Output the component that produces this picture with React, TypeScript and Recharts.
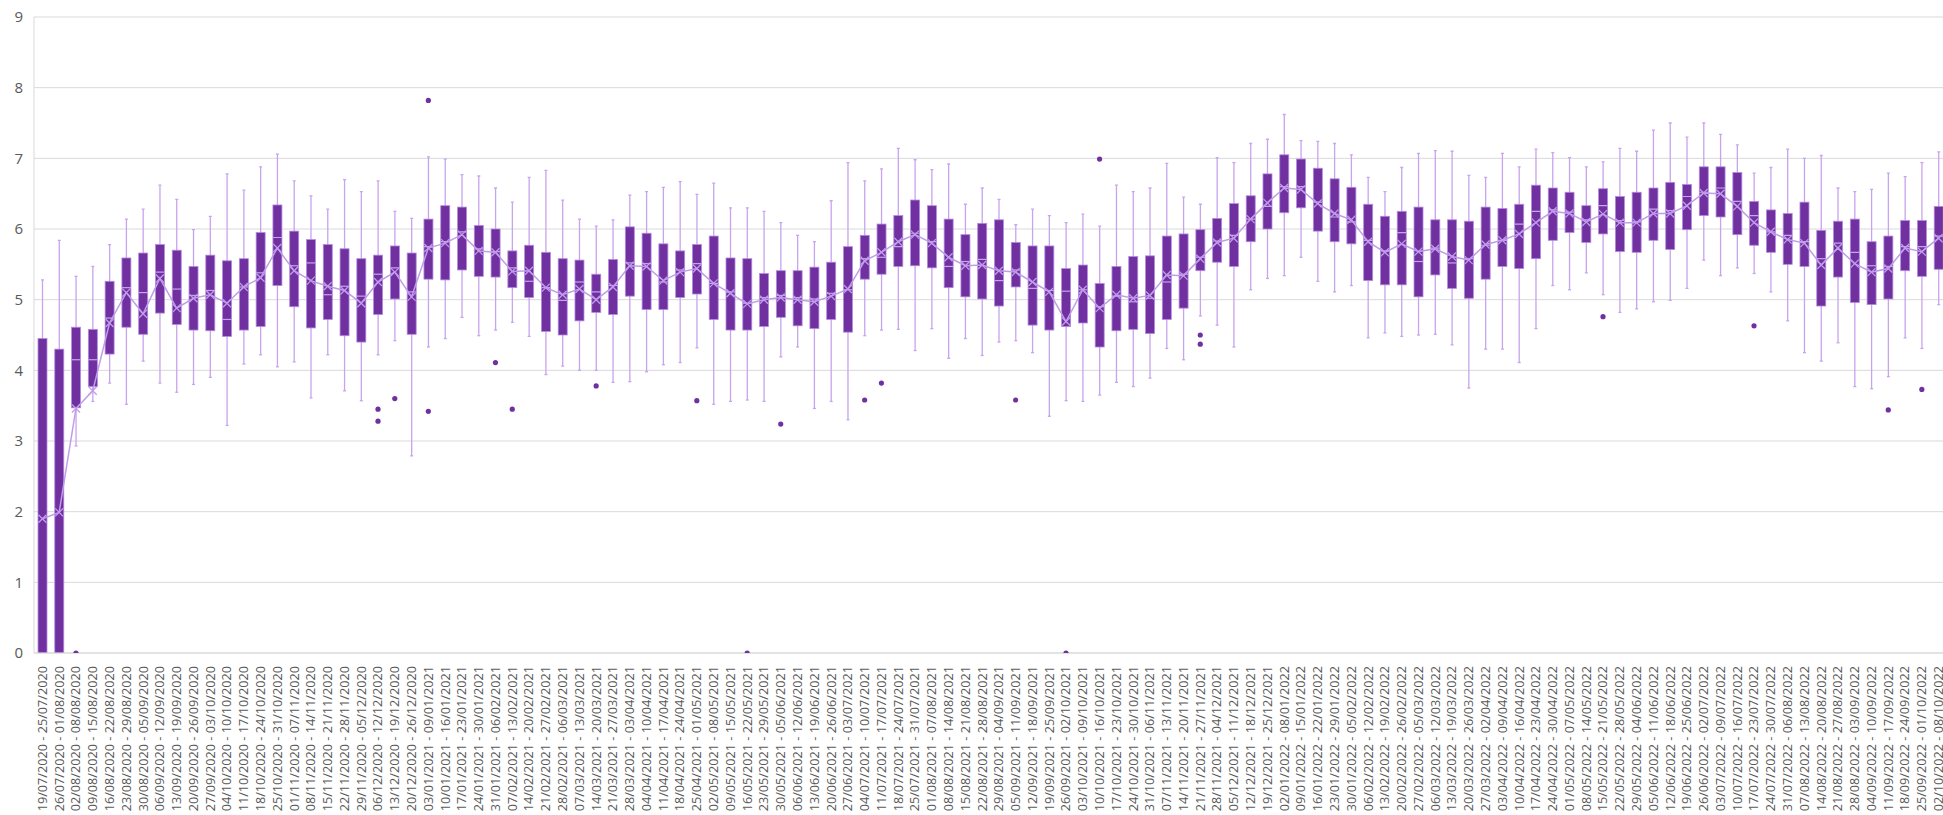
import React from 'react';
import { ComposedChart, Bar, Line, XAxis, YAxis, CartesianGrid } from 'recharts';

const weekLabels: string[] = [
  '19/07/2020 - 25/07/2020', '26/07/2020 - 01/08/2020', '02/08/2020 - 08/08/2020', '09/08/2020 - 15/08/2020',
  '16/08/2020 - 22/08/2020', '23/08/2020 - 29/08/2020', '30/08/2020 - 05/09/2020', '06/09/2020 - 12/09/2020',
  '13/09/2020 - 19/09/2020', '20/09/2020 - 26/09/2020', '27/09/2020 - 03/10/2020', '04/10/2020 - 10/10/2020',
  '11/10/2020 - 17/10/2020', '18/10/2020 - 24/10/2020', '25/10/2020 - 31/10/2020', '01/11/2020 - 07/11/2020',
  '08/11/2020 - 14/11/2020', '15/11/2020 - 21/11/2020', '22/11/2020 - 28/11/2020', '29/11/2020 - 05/12/2020',
  '06/12/2020 - 12/12/2020', '13/12/2020 - 19/12/2020', '20/12/2020 - 26/12/2020',
  '03/01/2021 - 09/01/2021', '10/01/2021 - 16/01/2021', '17/01/2021 - 23/01/2021', '24/01/2021 - 30/01/2021',
  '31/01/2021 - 06/02/2021', '07/02/2021 - 13/02/2021', '14/02/2021 - 20/02/2021', '21/02/2021 - 27/02/2021',
  '28/02/2021 - 06/03/2021', '07/03/2021 - 13/03/2021', '14/03/2021 - 20/03/2021', '21/03/2021 - 27/03/2021',
  '28/03/2021 - 03/04/2021', '04/04/2021 - 10/04/2021', '11/04/2021 - 17/04/2021', '18/04/2021 - 24/04/2021',
  '25/04/2021 - 01/05/2021', '02/05/2021 - 08/05/2021', '09/05/2021 - 15/05/2021', '16/05/2021 - 22/05/2021',
  '23/05/2021 - 29/05/2021', '30/05/2021 - 05/06/2021', '06/06/2021 - 12/06/2021', '13/06/2021 - 19/06/2021',
  '20/06/2021 - 26/06/2021', '27/06/2021 - 03/07/2021', '04/07/2021 - 10/07/2021', '11/07/2021 - 17/07/2021',
  '18/07/2021 - 24/07/2021', '25/07/2021 - 31/07/2021', '01/08/2021 - 07/08/2021', '08/08/2021 - 14/08/2021',
  '15/08/2021 - 21/08/2021', '22/08/2021 - 28/08/2021', '29/08/2021 - 04/09/2021', '05/09/2021 - 11/09/2021',
  '12/09/2021 - 18/09/2021', '19/09/2021 - 25/09/2021', '26/09/2021 - 02/10/2021', '03/10/2021 - 09/10/2021',
  '10/10/2021 - 16/10/2021', '17/10/2021 - 23/10/2021', '24/10/2021 - 30/10/2021', '31/10/2021 - 06/11/2021',
  '07/11/2021 - 13/11/2021', '14/11/2021 - 20/11/2021', '21/11/2021 - 27/11/2021', '28/11/2021 - 04/12/2021',
  '05/12/2021 - 11/12/2021', '12/12/2021 - 18/12/2021', '19/12/2021 - 25/12/2021',
  '02/01/2022 - 08/01/2022', '09/01/2022 - 15/01/2022', '16/01/2022 - 22/01/2022', '23/01/2022 - 29/01/2022',
  '30/01/2022 - 05/02/2022', '06/02/2022 - 12/02/2022', '13/02/2022 - 19/02/2022', '20/02/2022 - 26/02/2022',
  '27/02/2022 - 05/03/2022', '06/03/2022 - 12/03/2022', '13/03/2022 - 19/03/2022', '20/03/2022 - 26/03/2022',
  '27/03/2022 - 02/04/2022', '03/04/2022 - 09/04/2022', '10/04/2022 - 16/04/2022', '17/04/2022 - 23/04/2022',
  '24/04/2022 - 30/04/2022', '01/05/2022 - 07/05/2022', '08/05/2022 - 14/05/2022', '15/05/2022 - 21/05/2022',
  '22/05/2022 - 28/05/2022', '29/05/2022 - 04/06/2022', '05/06/2022 - 11/06/2022', '12/06/2022 - 18/06/2022',
  '19/06/2022 - 25/06/2022', '26/06/2022 - 02/07/2022', '03/07/2022 - 09/07/2022', '10/07/2022 - 16/07/2022',
  '17/07/2022 - 23/07/2022', '24/07/2022 - 30/07/2022', '31/07/2022 - 06/08/2022', '07/08/2022 - 13/08/2022',
  '14/08/2022 - 20/08/2022', '21/08/2022 - 27/08/2022', '28/08/2022 - 03/09/2022', '04/09/2022 - 10/09/2022',
  '11/09/2022 - 17/09/2022', '18/09/2022 - 24/09/2022', '25/09/2022 - 01/10/2022', '02/10/2022 - 08/10/2022',
];

const whiskerLow: number[] = [
  0, 0, 2.93, 3.56, 3.82, 3.52, 4.13, 3.82, 3.69, 3.80, 3.90, 3.22, 4.09, 4.22, 4.05, 4.12, 3.61, 4.22, 3.71, 3.57,
  4.22, 4.42, 2.79, 4.33, 4.45, 4.75, 4.49, 4.57, 4.68, 4.48, 3.94, 4.06, 4.00, 4.00, 3.83, 3.84, 3.98, 4.08, 4.11, 4.32,
  3.52, 3.56, 3.58, 3.56, 4.19, 4.33, 3.46, 3.56, 3.30, 4.49, 4.57, 4.58, 4.28, 4.59, 4.17, 4.45, 4.21, 4.40, 4.42, 4.25,
  3.35, 3.57, 3.56, 3.65, 3.83, 3.77, 3.89, 4.31, 4.15, 4.77, 4.64, 4.33, 5.14, 5.30, 5.34, 5.60, 5.26, 5.11, 5.20, 4.46,
  4.53, 4.48, 4.50, 4.51, 4.36, 3.75, 4.30, 4.30, 4.11, 4.59, 5.20, 5.14, 5.38, 5.07, 4.82, 4.87, 4.97, 4.99, 5.16, 5.56,
  5.34, 5.45, 5.37, 5.11, 4.70, 4.25, 4.13, 4.39, 3.77, 3.74, 3.91, 4.46, 4.31, 4.93,
];

const quartile1: number[] = [
  0, 0, 3.47, 3.77, 4.23, 4.61, 4.51, 4.81, 4.65, 4.57, 4.56, 4.48, 4.57, 4.62, 5.20, 4.90, 4.60, 4.72, 4.49, 4.40,
  4.79, 5.01, 4.51, 5.29, 5.28, 5.42, 5.33, 5.32, 5.17, 5.03, 4.55, 4.50, 4.70, 4.82, 4.79, 5.05, 4.86, 4.86, 5.03, 5.08,
  4.72, 4.57, 4.57, 4.62, 4.75, 4.63, 4.59, 4.72, 4.54, 5.29, 5.36, 5.47, 5.48, 5.45, 5.17, 5.04, 5.01, 4.91, 5.18, 4.64,
  4.57, 4.62, 4.67, 4.33, 4.56, 4.58, 4.52, 4.72, 4.88, 5.41, 5.53, 5.47, 5.82, 6.00, 6.23, 6.30, 5.97, 5.82, 5.79, 5.27,
  5.21, 5.21, 5.04, 5.35, 5.16, 5.02, 5.29, 5.47, 5.44, 5.58, 5.84, 5.95, 5.81, 5.93, 5.68, 5.67, 5.84, 5.71, 5.99, 6.19,
  6.17, 5.92, 5.77, 5.67, 5.50, 5.47, 4.91, 5.32, 4.96, 4.93, 5.01, 5.41, 5.33, 5.43,
];

const medians: number[] = [
  0, 0, 4.15, 4.15, 4.74, 5.17, 5.10, 5.39, 5.15, 5.06, 5.13, 4.72, 5.18, 5.38, 5.88, 5.48, 5.52, 5.07, 5.19, 5.05,
  5.36, 5.45, 5.11, 5.75, 5.82, 5.96, 5.72, 5.68, 5.45, 5.26, 5.17, 4.99, 5.25, 5.11, 5.20, 5.52, 5.51, 5.25, 5.42, 5.51,
  5.23, 5.11, 4.95, 5.03, 5.06, 5.03, 5.01, 5.09, 5.14, 5.58, 5.60, 5.75, 5.94, 5.82, 5.47, 5.54, 5.57, 5.27, 5.42, 5.16,
  5.13, 5.12, 5.14, 4.90, 5.05, 4.97, 5.02, 5.25, 5.36, 5.60, 5.83, 5.91, 6.14, 6.32, 6.60, 6.60, 6.38, 6.17, 6.10, 5.84,
  5.69, 5.95, 5.54, 5.73, 5.52, 5.58, 5.77, 5.84, 6.07, 6.25, 6.27, 6.24, 6.13, 6.33, 6.12, 6.10, 6.28, 6.26, 6.46, 6.52,
  6.58, 6.39, 6.19, 5.96, 5.91, 5.82, 5.58, 5.80, 5.67, 5.48, 5.47, 5.75, 5.75, 5.90,
];

const quartile3: number[] = [
  4.45, 4.30, 4.61, 4.58, 5.26, 5.59, 5.66, 5.78, 5.70, 5.47, 5.63, 5.55, 5.58, 5.95, 6.34, 5.97, 5.85, 5.78, 5.72, 5.58,
  5.63, 5.76, 5.66, 6.14, 6.33, 6.31, 6.05, 6.00, 5.69, 5.77, 5.67, 5.58, 5.56, 5.36, 5.57, 6.03, 5.94, 5.79, 5.69, 5.78,
  5.90, 5.59, 5.58, 5.37, 5.41, 5.41, 5.46, 5.53, 5.75, 5.91, 6.07, 6.19, 6.41, 6.33, 6.14, 5.92, 6.08, 6.13, 5.81, 5.76,
  5.76, 5.44, 5.49, 5.23, 5.47, 5.61, 5.62, 5.90, 5.93, 5.99, 6.15, 6.36, 6.47, 6.78, 7.05, 6.99, 6.86, 6.71, 6.59, 6.35,
  6.18, 6.25, 6.31, 6.13, 6.13, 6.11, 6.31, 6.29, 6.35, 6.62, 6.58, 6.52, 6.33, 6.57, 6.46, 6.52, 6.58, 6.66, 6.63, 6.88,
  6.88, 6.80, 6.39, 6.27, 6.22, 6.38, 5.98, 6.11, 6.14, 5.82, 5.90, 6.12, 6.12, 6.32,
];

const whiskerHigh: number[] = [
  5.28, 5.84, 5.33, 5.47, 5.78, 6.14, 6.28, 6.62, 6.42, 5.99, 6.18, 6.78, 6.55, 6.88, 7.06, 6.68, 6.47, 6.28, 6.70, 6.53,
  6.68, 6.25, 6.15, 7.02, 6.99, 6.77, 6.75, 6.58, 6.38, 6.73, 6.83, 6.41, 6.14, 6.04, 6.13, 6.48, 6.53, 6.59, 6.67, 6.49,
  6.65, 6.30, 6.30, 6.25, 6.09, 5.91, 5.82, 6.40, 6.94, 6.68, 6.85, 7.14, 6.98, 6.84, 6.92, 6.35, 6.58, 6.42, 6.06, 6.28,
  6.19, 6.09, 6.21, 6.04, 6.62, 6.53, 6.58, 6.93, 6.45, 6.35, 7.01, 6.94, 7.21, 7.27, 7.62, 7.25, 7.24, 7.21, 7.05, 6.73,
  6.53, 6.87, 7.07, 7.11, 7.10, 6.76, 6.73, 7.07, 6.88, 7.13, 7.08, 7.01, 6.88, 6.95, 7.14, 7.10, 7.40, 7.50, 7.30, 7.50,
  7.34, 7.19, 6.79, 6.87, 7.13, 7.00, 7.04, 6.58, 6.53, 6.56, 6.79, 6.74, 6.94, 7.09,
];

const means: number[] = [
  1.90, 1.99, 3.46, 3.71, 4.67, 5.10, 4.80, 5.30, 4.88, 5.02, 5.07, 4.95, 5.18, 5.31, 5.73, 5.41, 5.27, 5.19, 5.13, 4.95,
  5.25, 5.39, 5.04, 5.73, 5.80, 5.92, 5.69, 5.67, 5.40, 5.41, 5.17, 5.07, 5.15, 5.00, 5.18, 5.48, 5.47, 5.27, 5.39, 5.44,
  5.23, 5.09, 4.94, 5.00, 5.03, 5.00, 4.97, 5.05, 5.15, 5.55, 5.67, 5.82, 5.92, 5.80, 5.60, 5.48, 5.49, 5.41, 5.39, 5.25,
  5.11, 4.69, 5.14, 4.88, 5.07, 5.02, 5.06, 5.35, 5.34, 5.58, 5.81, 5.87, 6.14, 6.37, 6.58, 6.56, 6.36, 6.22, 6.13, 5.82,
  5.67, 5.79, 5.68, 5.72, 5.61, 5.56, 5.78, 5.84, 5.93, 6.09, 6.25, 6.22, 6.10, 6.21, 6.09, 6.09, 6.22, 6.22, 6.33, 6.51,
  6.50, 6.32, 6.09, 5.96, 5.85, 5.80, 5.49, 5.73, 5.51, 5.39, 5.44, 5.73, 5.68, 5.87,
];

const outlierWeeks: string[] = [
  '02/08/2020 - 08/08/2020', '06/12/2020 - 12/12/2020', '06/12/2020 - 12/12/2020', '13/12/2020 - 19/12/2020',
  '03/01/2021 - 09/01/2021', '03/01/2021 - 09/01/2021', '31/01/2021 - 06/02/2021', '07/02/2021 - 13/02/2021',
  '14/03/2021 - 20/03/2021', '25/04/2021 - 01/05/2021', '16/05/2021 - 22/05/2021', '30/05/2021 - 05/06/2021',
  '04/07/2021 - 10/07/2021', '11/07/2021 - 17/07/2021', '05/09/2021 - 11/09/2021', '26/09/2021 - 02/10/2021',
  '10/10/2021 - 16/10/2021', '21/11/2021 - 27/11/2021', '21/11/2021 - 27/11/2021', '15/05/2022 - 21/05/2022',
  '17/07/2022 - 23/07/2022', '11/09/2022 - 17/09/2022', '25/09/2022 - 01/10/2022',
];
const outlierValues: number[] = [
  0, 3.45, 3.28, 3.60,
  7.82, 3.42, 4.11, 3.45,
  3.78, 3.57, 0, 3.24,
  3.58, 3.82, 3.58, 0,
  6.99, 4.50, 4.37, 4.76,
  4.63, 3.44, 3.73,
];

const yTicks: number[] = [0, 1, 2, 3, 4, 5, 6, 7, 8, 9];

const BOX_FILL = '#7030A0';
const BOX_EDGE = '#B48ADF';
const WHISKER = '#C7A4EE';
const MEAN_LINE = '#C09CEB';
const GRID = '#D9D9D9';
const TEXT = '#595959';
const FONT = "'Open Sans', 'Noto Sans', sans-serif";

const data = weekLabels.map((label, i) => {
  const outs: number[] = [];
  outlierWeeks.forEach((w, k) => {
    if (w === label) outs.push(outlierValues[k]);
  });
  return {
    label,
    range: [whiskerLow[i], whiskerHigh[i]],
    low: whiskerLow[i],
    high: whiskerHigh[i],
    q1: quartile1[i],
    med: medians[i],
    q3: quartile3[i],
    mean: means[i],
    outA: outs.length > 0 ? outs[0] : null,
    outB: outs.length > 1 ? outs[1] : null,
  };
});

const BoxShape = (props: any) => {
  const { x, y, width, height, payload } = props;
  if (x == null || y == null || !payload) return <g />;
  const { low, high, q1, q3, med } = payload;
  const span = high - low;
  const py = (v: number) => y + (span === 0 ? 0 : (height * (high - v)) / span);
  const cx = x + width / 2;
  const yTop = py(q3);
  const yBot = py(q1);
  const yMed = py(med);
  return (
    <g>
      <line x1={cx} x2={cx} y1={y} y2={y + height} stroke={WHISKER} strokeWidth={1.3} />
      <line x1={cx - 1.5} x2={cx + 1.5} y1={y} y2={y} stroke={WHISKER} strokeWidth={1.3} />
      <line x1={cx - 1.5} x2={cx + 1.5} y1={y + height} y2={y + height} stroke={WHISKER} strokeWidth={1.3} />
      <rect x={x} y={yTop} width={width} height={Math.max(0, yBot - yTop)} fill={BOX_FILL} stroke={BOX_EDGE} strokeWidth={0.8} />
      {med > q1 ? (
        <line x1={x} x2={x + width} y1={yMed} y2={yMed} stroke={WHISKER} strokeWidth={1.2} />
      ) : null}
    </g>
  );
};

const MeanDot = (props: any) => {
  const { cx, cy, index } = props;
  if (cx == null || cy == null) return <g key={`m-${index}`} />;
  const s = 4;
  return (
    <g key={`m-${index}`}>
      <line x1={cx - s} y1={cy - s} x2={cx + s} y2={cy + s} stroke={MEAN_LINE} strokeWidth={1.3} />
      <line x1={cx - s} y1={cy + s} x2={cx + s} y2={cy - s} stroke={MEAN_LINE} strokeWidth={1.3} />
    </g>
  );
};

const OutlierDot = (props: any) => {
  const { cx, cy, index, value } = props;
  if (value == null || cx == null || cy == null || Number.isNaN(cy)) return <g key={`o-${index}`} />;
  return <circle key={`o-${index}`} cx={cx} cy={cy} r={2.6} fill={BOX_FILL} />;
};

const XTick = (props: any) => {
  const { x, y, payload } = props;
  return (
    <text
      x={x}
      y={y}
      transform={`rotate(-90, ${x}, ${y})`}
      textAnchor="end"
      dy="0.35em"
      fontSize={12.7}
      fill={TEXT}
      fontFamily={FONT}
    >
      {payload.value}
    </text>
  );
};

export default function App() {
  return (
    <div
      style={{
        position: 'fixed',
        left: 0,
        top: 0,
        width: 1943,
        height: 815,
        overflow: 'hidden',
        background: '#ffffff',
      }}
    >
      <ComposedChart
        width={1947}
        height={815}
        data={data}
        margin={{ top: 17, right: 0, bottom: 0, left: 0 }}
        barCategoryGap={0}
      >
        <CartesianGrid vertical={false} stroke={GRID} strokeWidth={1} />
        <XAxis
          dataKey="label"
          interval={0}
          height={162}
          tickLine={false}
          tickSize={0}
          tickMargin={13}
          axisLine={{ stroke: GRID }}
          tick={<XTick />}
        />
        <YAxis
          type="number"
          domain={[0, 9]}
          ticks={yTicks}
          width={34}
          tickLine={false}
          tickSize={6}
          tickMargin={5}
          axisLine={{ stroke: GRID }}
          tick={{ fontSize: 15, fill: TEXT, fontFamily: FONT }}
          allowDataOverflow
        />
        <Bar dataKey="range" barSize={9} shape={<BoxShape />} isAnimationActive={false} />
        <Line
          dataKey="mean"
          stroke={MEAN_LINE}
          strokeWidth={1.5}
          dot={<MeanDot />}
          activeDot={false}
          isAnimationActive={false}
        />
        <Line dataKey="outA" stroke="none" dot={<OutlierDot />} activeDot={false} isAnimationActive={false} connectNulls={false} />
        <Line dataKey="outB" stroke="none" dot={<OutlierDot />} activeDot={false} isAnimationActive={false} connectNulls={false} />
      </ComposedChart>
    </div>
  );
}
